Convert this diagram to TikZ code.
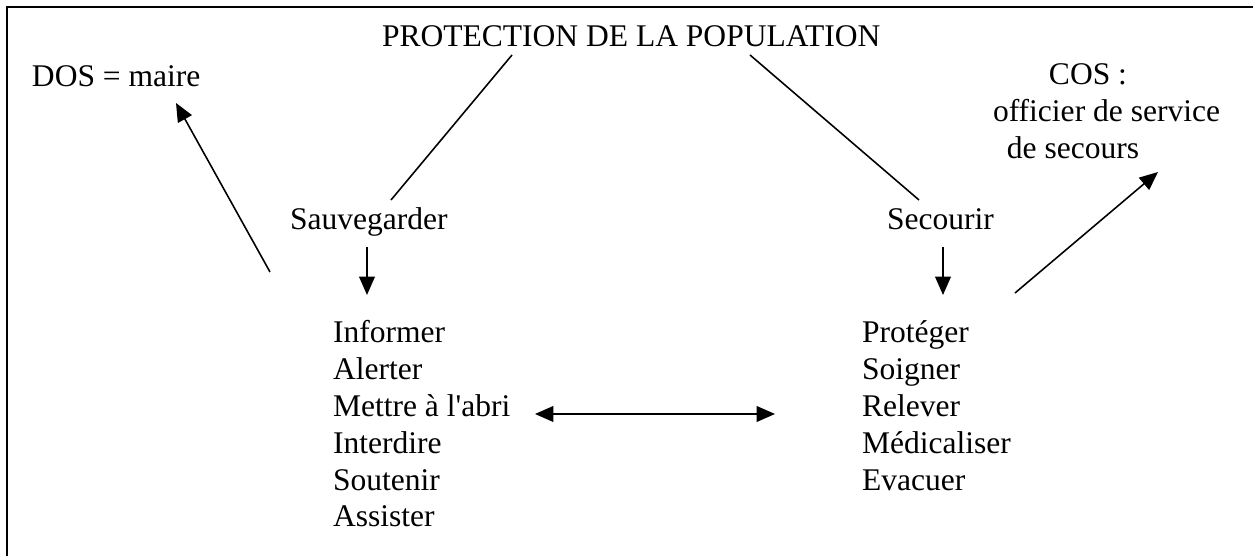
\documentclass[tikz,border=0pt]{standalone}
\usepackage{fontspec}
\setmainfont{Liberation Serif}
\usetikzlibrary{arrows.meta}
\tikzset{
  txt/.style={inner sep=0pt, outer sep=0pt, font=\fontsize{12}{14}\selectfont},
  blk/.style={txt, align=left, anchor=north west},
  conn/.style={line width=0.6pt, black},
  arr/.style={conn, -{Triangle[length=7pt,width=6pt]}},
  darr/.style={conn, {Triangle[length=7pt,width=6pt]}-{Triangle[length=7pt,width=6pt]}},
  frame/.style={line width=1pt, black}
}
\begin{document}
\begin{tikzpicture}[x=0.3805pt,y=-0.3805pt]
\useasboundingbox (0,0) rectangle (1253,556);
\draw[frame] (7,556) -- (7,7) -- (1253,7);

\node[txt, anchor=base west] (title) at (382,47) {PROTECTION DE LA POPULATION};
\node[txt, anchor=base west] (dos) at (32,87) {DOS = maire};
\node[blk] (cos) at (993,58.7) {\rule{0pt}{10pt}\hspace*{21.3pt}COS :\\officier de service\\\hspace*{5.3pt}de secours};
\node[txt, anchor=base west] (sauv) at (290,230) {Sauvegarder};
\node[txt, anchor=base west] (sec) at (887,230) {Secourir};
\node[blk] (listA) at (333,316.7) {\rule{0pt}{10pt}Informer\\Alerter\\Mettre à l\textquotesingle abri\\Interdire\\Soutenir\\Assister};
\node[blk] (listB) at (862,316.7) {\rule{0pt}{10pt}Protéger\\Soigner\\Relever\\Médicaliser\\Evacuer};

\coordinate (tA) at (512,55);
\coordinate (sA) at (391,200);
\coordinate (tB) at (750,55);
\coordinate (sB) at (919,200);
\coordinate (dosTail) at (270,272);
\coordinate (dosTip) at (176,103);
\coordinate (sauvDown) at (367,247);
\coordinate (listATop) at (367,295);
\coordinate (secDown) at (943,247);
\coordinate (listBTop) at (943,295);
\coordinate (cosTail) at (1015,293);
\coordinate (cosTip) at (1158,172);
\coordinate (midL) at (535,414);
\coordinate (midR) at (775,414);

\draw[conn] (tA) -- (sA);
\draw[conn] (tB) -- (sB);
\draw[arr] (dosTail) -- (dosTip);
\draw[arr] (sauvDown) -- (listATop);
\draw[arr] (secDown) -- (listBTop);
\draw[arr] (cosTail) -- (cosTip);
\draw[darr] (midL) -- (midR);
\end{tikzpicture}
\end{document}
